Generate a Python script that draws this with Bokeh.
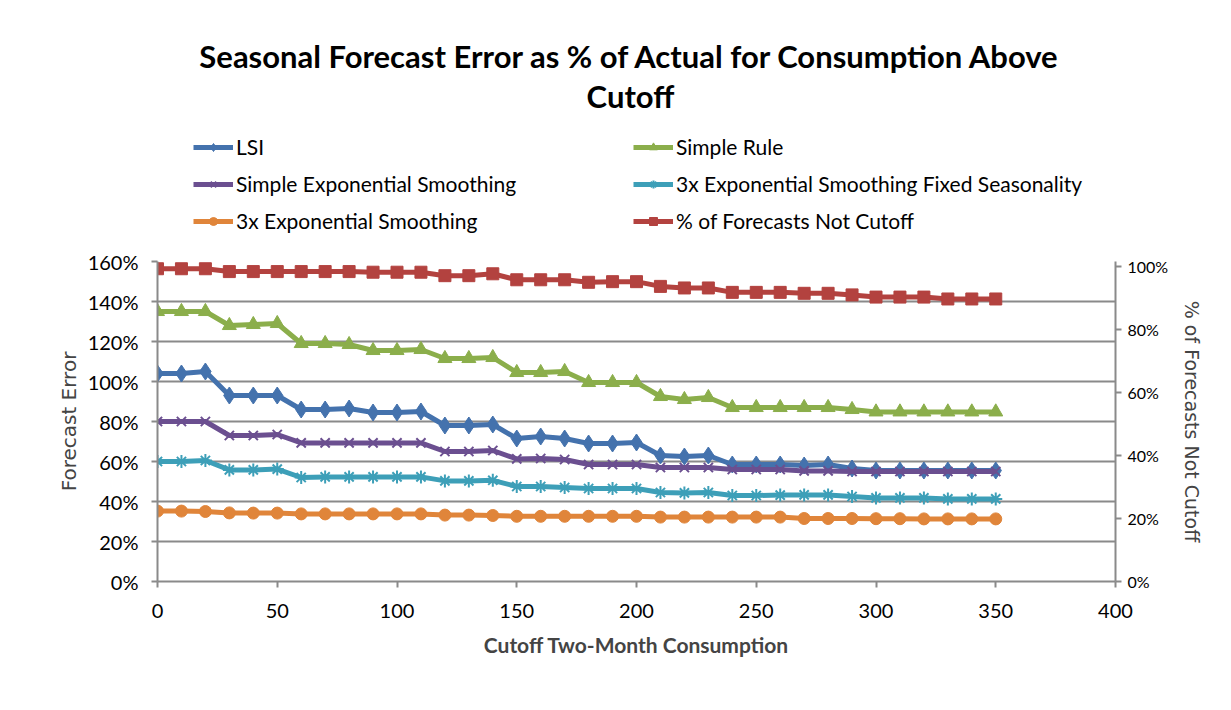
from bokeh.plotting import figure
from bokeh.models import (Range1d, LinearAxis, NumeralTickFormatter, Legend, LegendItem,
                          Label, FixedTicker)
from bokeh.layouts import column
from bokeh.embed import file_html
from bokeh.resources import INLINE

cutoff = [0, 10, 20, 30, 40, 50, 60, 70, 80, 90, 100, 110, 120, 130, 140, 150, 160, 170,
          180, 190, 200, 210, 220, 230, 240, 250, 260, 270, 280, 290, 300, 310, 320, 330, 340, 350]

lsi = [104, 104, 105, 93, 93, 93, 86, 86, 86.5, 84.5, 84.5, 85, 78, 78, 78.5, 71.5, 72.5, 71.5,
       69, 69, 69.5, 63, 62.5, 63, 58.5, 58.5, 58.5, 58, 58.5, 56.5, 55.5, 55.5, 55.5, 55.5, 55.5, 55.5]
simple_rule = [135, 135, 135, 128, 128.5, 129, 119, 119, 118.5, 115.5, 115.5, 116, 111.5, 111.5, 112,
               104.5, 104.5, 105, 99.5, 99.5, 99.5, 92.5, 91, 92, 87, 87, 87, 87, 87, 86,
               84.8, 84.8, 84.8, 84.8, 84.8, 84.8]
ses = [80, 80, 80, 73, 73, 73.5, 69.3, 69.3, 69.3, 69.3, 69.3, 69.3, 65, 65, 65.5, 61.3, 61.5, 61,
       58.5, 58.5, 58.5, 57, 57, 57, 56, 56, 56, 55.3, 55.3, 55, 55, 55, 55, 55, 55, 55]
es3_fixed = [60, 60, 60.5, 55.8, 55.8, 56.2, 52, 52.3, 52.3, 52.3, 52.3, 52.3, 50.3, 50.3, 50.6,
             47.5, 47.5, 47, 46.5, 46.5, 46.5, 44.5, 44.3, 44.5, 43, 43, 43.2, 43.3, 43.3, 42.5,
             41.8, 41.8, 41.8, 41.3, 41.3, 41.3]
es3 = [35.2, 35.2, 35, 34.3, 34.2, 34.2, 33.8, 33.8, 33.8, 33.8, 33.8, 33.8, 33.2, 33.2, 33,
       32.6, 32.6, 32.6, 32.6, 32.6, 32.6, 32.2, 32.2, 32.2, 32.2, 32.2, 32.2, 31.5, 31.5, 31.5,
       31.4, 31.4, 31.3, 31.3, 31.3, 31.3]
not_cutoff = [99.3, 99.3, 99.3, 98.4, 98.4, 98.4, 98.4, 98.4, 98.4, 98.2, 98.2, 98.2, 97.1, 97.1, 97.7,
              95.8, 95.8, 95.8, 95.0, 95.2, 95.2, 93.7, 93.2, 93.2, 91.8, 91.8, 91.8, 91.5, 91.5, 91.0,
              90.3, 90.3, 90.3, 89.7, 89.7, 89.7]

left_ticks = [0, 0.2, 0.4, 0.6, 0.8, 1.0, 1.2, 1.4, 1.6]
right_ticks = [0, 0.2, 0.4, 0.6, 0.8, 1.0]
x_ticks = [0, 50, 100, 150, 200, 250, 300, 350, 400]

title_line1 = "Seasonal Forecast Error as % of Actual for Consumption Above"
title_line2 = "Cutoff"

FONT = "Lato"
GRID = "#8a8a8a"
W = 1223
TOP_H = 246
BL, BR = 157, 108

# ---------- header (title + legend); frame is aligned with the chart's frame ----------
head = figure(width=W, height=TOP_H, output_backend="svg", toolbar_location=None,
              x_range=Range1d(BL, W - BR), y_range=Range1d(TOP_H, 0),
              x_axis_location=None, y_axis_location=None,
              min_border_left=BL, min_border_right=BR, min_border_top=0, min_border_bottom=0)
head.outline_line_color = None
head.xgrid.grid_line_color = None
head.ygrid.grid_line_color = None
head.background_fill_color = "white"
head.border_fill_color = "white"

for txt, yy in ((title_line1, 55), (title_line2, 95)):
    head.add_layout(Label(x=630, y=yy, text=txt, text_align="center", text_baseline="middle",
                          text_font=FONT, text_font_style="bold", text_font_size="31px",
                          text_color="black"))

# ---------- main chart ----------
p = figure(width=W, height=702 - TOP_H, output_backend="svg", toolbar_location=None,
           x_range=Range1d(0, 400), y_range=Range1d(0, 1.6),
           min_border_left=BL, min_border_right=BR, min_border_top=15, min_border_bottom=121)
p.extra_y_ranges = {"right": Range1d(0, 1.016)}
p.outline_line_color = None
p.background_fill_color = "white"
p.border_fill_color = "white"

p.xgrid.grid_line_color = None
p.ygrid.grid_line_color = GRID
p.ygrid.grid_line_width = 2
p.ygrid.ticker = FixedTicker(ticks=left_ticks)

def style_axis(ax, size):
    ax.axis_line_color = GRID
    ax.axis_line_width = 2
    ax.major_tick_line_color = GRID
    ax.major_tick_line_width = 2
    ax.major_tick_out = 6
    ax.major_tick_in = 0
    ax.minor_tick_line_color = None
    ax.major_label_text_font = FONT
    ax.major_label_text_font_size = size
    ax.major_label_text_color = "black"

xa = p.xaxis[0]
style_axis(xa, "20px")
xa.ticker = FixedTicker(ticks=x_ticks)
xa.major_label_standoff = 16
xa.axis_label = "Cutoff Two-Month Consumption"
xa.axis_label_text_font = FONT
xa.axis_label_text_font_style = "bold"
xa.axis_label_text_font_size = "21px"
xa.axis_label_standoff = 11

ya = p.yaxis[0]
style_axis(ya, "20px")
ya.ticker = FixedTicker(ticks=left_ticks)
ya.formatter = NumeralTickFormatter(format="0%")
ya.major_label_standoff = 13
ya.axis_label = "Forecast Error"
ya.axis_label_text_font = "DejaVu Sans"
ya.axis_label_text_font_style = "normal"
ya.axis_label_text_font_size = "20px"
ya.axis_label_standoff = 4

ra = LinearAxis(y_range_name="right")
style_axis(ra, "16px")
ra.ticker = FixedTicker(ticks=right_ticks)
ra.formatter = NumeralTickFormatter(format="0%")
ra.major_label_standoff = 6
ra.axis_label = "% of Forecasts Not Cutoff"
ra.axis_label_text_font = "DejaVu Sans"
ra.axis_label_text_font_style = "normal"
ra.axis_label_text_font_size = "19px"
ra.axis_label_standoff = 10
p.add_layout(ra, "right")

series = [
    ("LSI", lsi, "#4472AD", "diamond", 17, "default"),
    ("Simple Rule", simple_rule, "#8BAE4B", "triangle", 14, "default"),
    ("Simple Exponential Smoothing", ses, "#6B4F90", "x", 13, "default"),
    ("3x Exponential Smoothing Fixed Seasonality", es3_fixed, "#3D9FB8", "asterisk", 13, "default"),
    ("3x Exponential Smoothing", es3, "#E0853A", "circle", 12, "default"),
    ("% of Forecasts Not Cutoff", not_cutoff, "#B3423F", "square", 12, "right"),
]

def draw(fig, xs, ys, color, marker, size, kw, visible=True):
    lr = fig.line(xs, ys, line_color=color, line_width=5, visible=visible, **kw)
    if marker in ("x", "asterisk"):
        sr = fig.scatter(xs, ys, marker=marker, size=size, line_color=color, line_width=2,
                         visible=visible, **kw)
    else:
        sr = fig.scatter(xs, ys, marker=marker, size=size, fill_color=color, line_color=color,
                         visible=visible, **kw)
    return lr, sr

items = []
for name, vals, color, marker, size, rng in series:
    kw = {} if rng == "default" else {"y_range_name": rng}
    ys = [v / 100 for v in vals]
    draw(p, cutoff, ys, color, marker, size, kw)
    # hidden copy in the header, used only to provide the legend swatch
    lr, sr = draw(head, cutoff, ys, color, marker, size, {}, visible=False)
    items.append(LegendItem(label=name, renderers=[lr, sr]))

def make_legend(its, loc):
    return Legend(items=its, location=loc, orientation="vertical", padding=0, margin=0,
                  border_line_color=None, background_fill_alpha=0,
                  inactive_fill_alpha=0, click_policy="none",
                  glyph_width=40, glyph_height=20, label_height=20, label_standoff=3, spacing=12,
                  label_text_font=FONT, label_text_font_size="21px", label_text_color="black")

head.add_layout(make_legend([items[0], items[2], items[4]], (193 - BL, 13)))
head.add_layout(make_legend([items[1], items[3], items[5]], (633 - BL, 13)))

layout = column(head, p, spacing=0)
open("out.html", "w").write(file_html(layout, INLINE))
